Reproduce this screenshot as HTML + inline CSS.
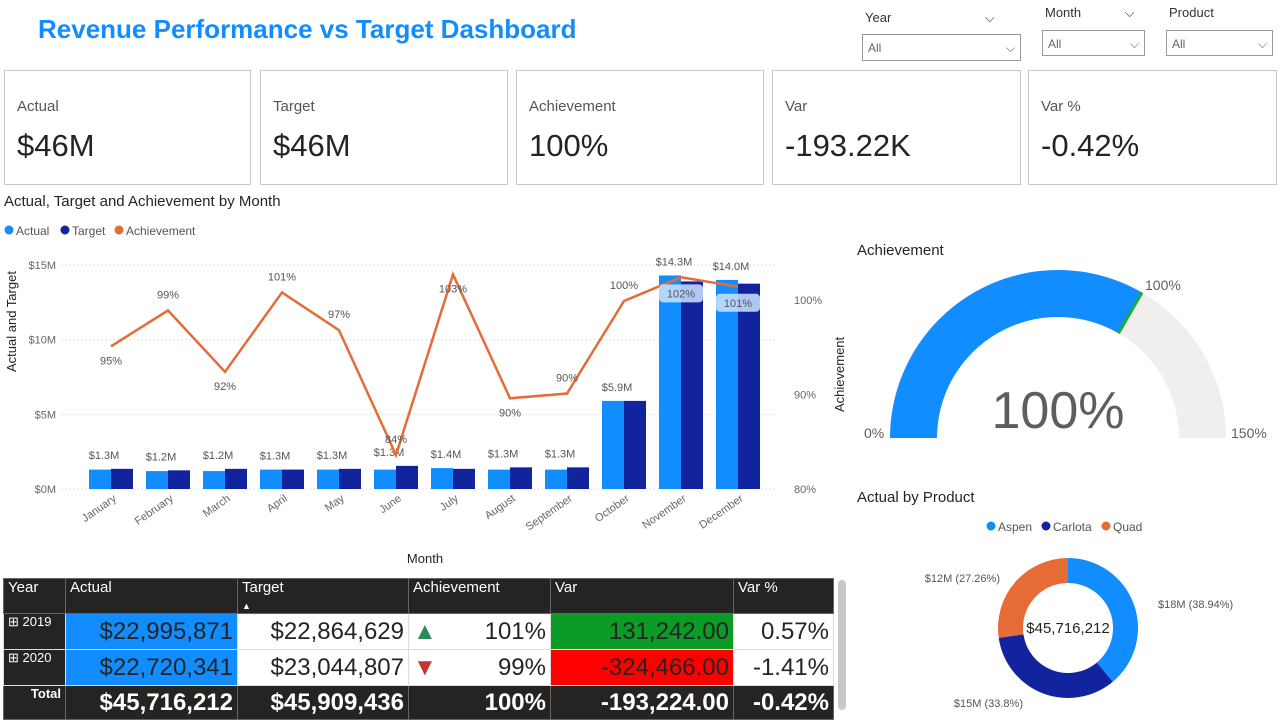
<!DOCTYPE html>
<html><head><meta charset="utf-8"><style>
body{margin:0;width:1281px;height:722px;background:#fff;font-family:"Liberation Sans",sans-serif;position:relative;overflow:hidden}
.abs{position:absolute}
.card{position:absolute;top:70px;height:113px;border:1px solid #c8c8c8;background:#fff}
.card .l{position:absolute;left:12px;top:27px;font-size:15px;color:#555}
.card .v{position:absolute;left:12px;top:57px;font-size:31px;color:#252423}
.sl{position:absolute;font-size:13px;color:#333}
.box{position:absolute;border:1px solid #999;font-size:12px;color:#666;box-sizing:border-box;padding:6px 5px}
table{border-collapse:collapse;position:absolute;left:3px;top:578px;font-family:"Liberation Sans",sans-serif}
td{padding:0 4px;border:1px solid #ddd;box-sizing:border-box}
</style></head><body>
<div class="abs" style="left:38px;top:14px;font-size:26px;font-weight:bold;color:#118dff">Revenue Performance vs Target Dashboard</div>

<div class="sl" style="left:865px;top:10px">Year <span style="margin-left:90px">⌵</span></div>
<div class="box" style="left:862px;top:34px;width:159px;height:27px">All<span style="float:right">⌵</span></div>
<div class="sl" style="left:1045px;top:5px">Month <span style="margin-left:40px">⌵</span></div>
<div class="box" style="left:1042px;top:30px;width:103px;height:26px">All<span style="float:right">⌵</span></div>
<div class="sl" style="left:1169px;top:5px">Product</div>
<div class="box" style="left:1166px;top:30px;width:107px;height:26px">All<span style="float:right">⌵</span></div>

<div class="card" style="left:4px;width:245px"><div class="l">Actual</div><div class="v">$46M</div></div>
<div class="card" style="left:260px;width:246px"><div class="l">Target</div><div class="v">$46M</div></div>
<div class="card" style="left:516px;width:246px"><div class="l">Achievement</div><div class="v">100%</div></div>
<div class="card" style="left:772px;width:247px"><div class="l">Var</div><div class="v">-193.22K</div></div>
<div class="card" style="left:1028px;width:247px"><div class="l">Var %</div><div class="v">-0.42%</div></div>

<svg class="abs" style="left:0;top:0" width="1281" height="722" id="svg"></svg>

<table>
<tr style="background:#252423;color:#fff;font-size:15px;height:34px;vertical-align:top">
<td style="width:62px;border-color:#666">Year</td><td style="width:172px;border-color:#666">Actual</td><td style="width:171px;border-color:#666">Target<br><span style="font-size:9px">▲</span></td><td style="width:142px;border-color:#666">Achievement</td><td style="width:183px;border-color:#666">Var</td><td style="width:100px;border-color:#666">Var %</td></tr>
<tr style="height:36px;font-size:24px;text-align:right;color:#252423">
<td style="background:#252423;color:#fff;font-size:13px;text-align:left;vertical-align:top">⊞ 2019</td><td style="background:#118dff">$22,995,871</td><td>$22,864,629</td><td><span style="float:left;color:#2e8b57;font-size:24px">▲</span>101%</td><td style="background:#0b9b26">131,242.00</td><td>0.57%</td></tr>
<tr style="height:36px;font-size:24px;text-align:right;color:#252423">
<td style="background:#252423;color:#fff;font-size:13px;text-align:left;vertical-align:top">⊞ 2020</td><td style="background:#118dff">$22,720,341</td><td>$23,044,807</td><td><span style="float:left;color:#c0392b;font-size:24px">▼</span>99%</td><td style="background:#f00">-324,466.00</td><td>-1.41%</td></tr>
<tr style="height:34px;font-size:24px;font-weight:bold;text-align:right;color:#fff;background:#252423">
<td style="font-size:13px;vertical-align:top;border-color:#666">Total</td><td style="border-color:#666">$45,716,212</td><td style="border-color:#666">$45,909,436</td><td style="border-color:#666">100%</td><td style="border-color:#666">-193,224.00</td><td style="border-color:#666">-0.42%</td></tr>
</table>
<div class="abs" style="left:838px;top:580px;width:8px;height:130px;background:#c8c8c8;border-radius:4px"></div>

<script>
const months=["January","February","March","April","May","June","July","August","September","October","November","December"];
const actual=[1.3,1.2,1.2,1.3,1.3,1.3,1.4,1.3,1.3,5.9,14.3,14.0];
const target=[1.35,1.25,1.35,1.3,1.35,1.55,1.35,1.45,1.45,5.9,13.9,13.75];
const achievement=[95.1,98.9,92.4,100.8,96.8,83.6,102.7,89.6,90.1,99.9,102.4,101.4];
const leftTicks=[0,5,10,15];
const rightTicks=[80,90,100];
const gaugeValue=100, gaugeMax=150, gaugeTarget=100;
const products=["Aspen","Carlota","Quad"];
const productValues=[17.80,15.45,12.46];
const productLabels=["$18M (38.94%)","$15M (33.8%)","$12M (27.26%)"];
const productColors=["#118dff","#12239e","#e66c37"];

const NS="http://www.w3.org/2000/svg";
const svg=document.getElementById('svg');
function mk(t,a,txt){const e=document.createElementNS(NS,t);for(const k in a)e.setAttribute(k,a[k]);if(txt!==undefined)e.textContent=txt;svg.appendChild(e);return e;}
const y0=489,yL=v=>y0-v*(224/15),yR=p=>y0-(p-80)*9.45,xC=i=>111+i*57;

let t;
t=mk('text',{x:4,y:206,'font-size':15,fill:'#252423'},'Actual, Target and Achievement by Month');


[["#118dff","Actual",4],["#12239e","Target",60],["#e66c37","Achievement",114]].forEach(l=>{
 const c=mk('circle',{cx:l[2]+5,cy:230,r:4.5,fill:l[0]});
 
 
 const e=mk('text',{x:l[2]+12,y:235,'font-size':12,fill:'#555'},l[1]);
 
 
});
leftTicks.forEach(v=>{
 const g=mk('line',{x1:62,x2:775,y1:yL(v),y2:yL(v),stroke:'#ccc','stroke-dasharray':'1 3'});
 
 
 const e=mk('text',{x:56,y:yL(v)+4,'font-size':11,fill:'#666','text-anchor':'end'},'$'+v+'M');
 
 
});
rightTicks.forEach(p=>{
 const e=mk('text',{x:794,y:yR(p)+4,'font-size':11,fill:'#666'},p+'%');
 
 
});
t=mk('text',{x:16,y:372,'font-size':13,fill:'#252423',transform:'rotate(-90 16 372)'},'Actual and Target');


t=mk('text',{x:844,y:412,'font-size':13,fill:'#252423',transform:'rotate(-90 844 412)'},'Achievement');


t=mk('text',{x:425,y:563,'font-size':13,fill:'#252423','text-anchor':'middle'},'Month');


months.forEach((m,i)=>{
 const x=xC(i);
 const a=mk('rect',{x:x-22,y:yL(actual[i]),width:22,height:y0-yL(actual[i]),fill:'#118dff'});
 
 
 const b=mk('rect',{x:x,y:yL(target[i]),width:22,height:y0-yL(target[i]),fill:'#12239e'});
 
 
 const l=mk('text',{x:x-7,y:yL(Math.max(actual[i],target[i]))-10,'font-size':11,fill:'#555','text-anchor':'middle'},'$'+actual[i].toFixed(1)+'M');
 
 
 const xl=mk('text',{x:x+6,y:500,'font-size':11,fill:'#666','text-anchor':'end',transform:'rotate(-35 '+(x+6)+' 500)'},m);
 
 
});
const pts=achievement.map((p,i)=>xC(i)+','+yR(p)).join(' ');
t=mk('polyline',{points:pts,fill:'none',stroke:'#e66c37','stroke-width':2.5});


achievement.forEach((p,i)=>{
 let up=(i==0||i==2||i==7)?18:-12;
 if(i==6) up=18;
 if(i>=10){
  up=20;
  const bx=mk('rect',{x:xC(i)-22,y:yR(p)+up-13,width:44,height:18,rx:4,fill:'#cfe3ff','fill-opacity':0.85});
  
  
 }
 const e=mk('text',{x:xC(i),y:yR(p)+up,'font-size':11,fill:'#555','text-anchor':'middle'},Math.round(p)+'%');
 
 
});

// gauge
const gcx=1058,gcy=438,R=168,r=121;
function arcPath(a0,a1,Ro,Ri){const p=(a,rr)=>[gcx-rr*Math.cos(a),gcy-rr*Math.sin(a)];
 const [x0,y0a]=p(a0,Ro),[x1,y1]=p(a1,Ro),[x2,y2]=p(a1,Ri),[x3,y3]=p(a0,Ri);
 const lg=(a1-a0)>Math.PI?1:0;
 return `M${x0},${y0a} A${Ro},${Ro} 0 ${lg} 1 ${x1},${y1} L${x2},${y2} A${Ri},${Ri} 0 ${lg} 0 ${x3},${y3}Z`;}
t=mk('text',{x:857,y:255,'font-size':15,fill:'#252423'},'Achievement');


t=mk('path',{d:arcPath(0,Math.PI,R,r),fill:'#f0efee'});


t=mk('path',{d:arcPath(0,Math.PI*gaugeValue/gaugeMax,R,r),fill:'#118dff'});


const ta=Math.PI*gaugeTarget/gaugeMax;
t=mk('line',{x1:gcx-r*Math.cos(ta),y1:gcy-r*Math.sin(ta),x2:gcx-R*Math.cos(ta),y2:gcy-R*Math.sin(ta),stroke:'#1aab40','stroke-width':3});


t=mk('text',{x:gcx,y:428,'font-size':52,fill:'#605e5c','text-anchor':'middle'},gaugeValue+'%');


t=mk('text',{x:864,y:438,'font-size':14,fill:'#605e5c'},'0%');


t=mk('text',{x:1231,y:438,'font-size':14,fill:'#605e5c'},gaugeMax+'%');


t=mk('text',{x:1145,y:290,'font-size':14,fill:'#605e5c'},gaugeTarget+'%');



// donut
t=mk('text',{x:857,y:502,'font-size':15,fill:'#252423'},'Actual by Product');


let lx=986;
products.forEach((p,i)=>{
 const c=mk('circle',{cx:lx+5,cy:526,r:4.5,fill:productColors[i]});
 
 
 const e=mk('text',{x:lx+12,y:531,'font-size':12,fill:'#555'},p);
 
 
 lx+=[55,60,50][i];
});
const dcx=1068,dcy=628,dR=70,dr=45,tot=productValues.reduce((a,b)=>a+b,0);
let ang=0;
const lblPos=[[1158,608,'start'],[1023,707,'end'],[1000,582,'end']];
productValues.forEach((v,i)=>{
 const a0=ang,a1=ang+v/tot*2*Math.PI;ang=a1;
 const P=(a,rr)=>[dcx+rr*Math.sin(a),dcy-rr*Math.cos(a)];
 const [x0,y0a]=P(a0,dR),[x1,y1]=P(a1,dR),[x2,y2]=P(a1,dr),[x3,y3]=P(a0,dr);
 const lg=(a1-a0)>Math.PI?1:0;
 const s=mk('path',{d:`M${x0},${y0a} A${dR},${dR} 0 ${lg} 1 ${x1},${y1} L${x2},${y2} A${dr},${dr} 0 ${lg} 0 ${x3},${y3}Z`,fill:productColors[i]});
 
 
 const e=mk('text',{x:lblPos[i][0],y:lblPos[i][1],'font-size':11,fill:'#555','text-anchor':lblPos[i][2]},productLabels[i]);
 
 
});
t=mk('text',{x:dcx,y:dcy+5,'font-size':15,fill:'#252423','text-anchor':'middle'},'$45,716,212');


</script>
</body></html>
